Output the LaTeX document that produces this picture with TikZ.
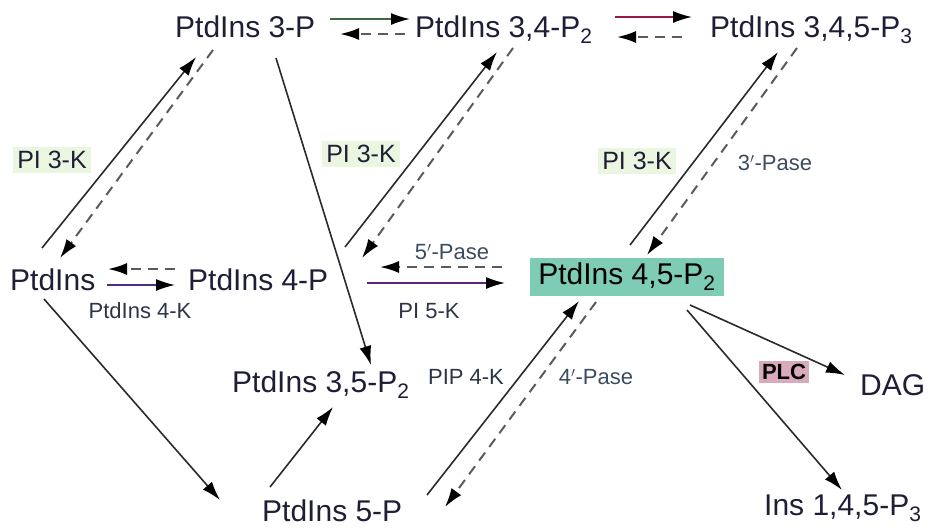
\documentclass[tikz,border=0pt]{standalone}
\usepackage{fontspec}
\setmainfont{Liberation Sans}
\usetikzlibrary{arrows.meta}
\definecolor{txt}{HTML}{1E1E36}
\definecolor{lbl}{HTML}{2E3448}
\definecolor{pase}{HTML}{3C4C60}
\definecolor{greenbg}{HTML}{EAF6E0}
\definecolor{pinkbg}{HTML}{D9A9BC}
\definecolor{teal}{HTML}{7ECBB6}
\definecolor{arrgray}{HTML}{2A2A2A}
\definecolor{dashgray}{HTML}{5A5A62}
\definecolor{darkgreen}{HTML}{3C6A3A}
\definecolor{crimson}{HTML}{9A1842}
\definecolor{purp}{HTML}{4E2C78}
\definecolor{purp2}{HTML}{5E2478}
\tikzset{
  main/.style={anchor=base west,inner sep=0pt,text=txt,font=\fontsize{30}{36}\selectfont},
  boxnode/.style={fill=teal,inner xsep=8pt,inner ysep=0pt,minimum height=38pt,text=black,font=\fontsize{30}{36}\selectfont},
  small/.style={inner sep=1pt,text=lbl,font=\fontsize{22}{26}\selectfont},
  pasel/.style={inner sep=1pt,text=pase,font=\fontsize{22}{26}\selectfont},
  kin/.style={fill=greenbg,inner sep=4pt,text=txt,font=\fontsize{25}{29}\selectfont},
  plcl/.style={fill=pinkbg,inner sep=3pt,text=black,font=\bfseries\fontsize{22}{26}\selectfont},
  tip/.style={-{Latex[length=19pt,width=12pt,color=black]}},
  sol/.style={tip,draw=arrgray,line width=1.6pt},
  dsh/.style={tip,draw=dashgray,line width=2pt,dash pattern=on 10pt off 7pt},
}
\begin{document}
\begin{tikzpicture}[x=1pt,y=-1pt]
\useasboundingbox (0,0) rectangle (933,528);
% nodes
\node[main] (pi) at (10,290) {PtdIns};
\node[main] (p3) at (175,37) {PtdIns 3-P};
\node[main] (p34) at (415,37) {PtdIns 3,4-P\textsubscript{2}};
\node[main] (p345) at (710,37) {PtdIns 3,4,5-P\textsubscript{3}};
\node[main] (p4) at (188,290) {PtdIns 4-P};
\node[boxnode] (p45) at (627,277) {PtdIns 4,5-P\textsubscript{2}};
\node[main] (p35) at (232,392) {PtdIns 3,5-P\textsubscript{2}};
\node[main] (p5) at (262,521) {PtdIns 5-P};
\node[main] (dag) at (860,395) {DAG};
\node[main] (ins) at (764,515) {Ins 1,4,5-P\textsubscript{3}};
% labels
\node[kin] (k1) at (52,160) {PI 3-K};
\node[kin] (k2) at (361,154) {PI 3-K};
\node[kin] (k3) at (637,161) {PI 3-K};
\node[pasel] (l3p) at (775,163) {3$'$-Pase};
\node[pasel] (l5p) at (452,252) {5$'$-Pase};
\node[small] (l5k) at (429,311) {PI 5-K};
\node[small] (l4k) at (140,311) {PtdIns 4-K};
\node[small] (lpip) at (466,377) {PIP 4-K};
\node[pasel] (l4p) at (596,377) {4$'$-Pase};
\node[plcl] (plc) at (784,372) {PLC};
% arrows
\draw[sol] ([shift={(32,-42)}]pi.base west) -- ([shift={(21,20)}]p3.base west);
\draw[dsh] ([shift={(38,13)}]p3.base west) -- ([shift={(50,-32)}]pi.base west);
\draw[sol,draw=darkgreen] ([shift={(155,-18)}]p3.base west) -- ([shift={(-5,-18)}]p34.base west);
\draw[dsh] ([shift={(-10,-3)}]p34.base west) -- ([shift={(165,-3)}]p3.base west);
\draw[sol,draw=crimson] ([shift={(200,-20)}]p34.base west) -- ([shift={(-18,-20)}]p345.base west);
\draw[dsh] ([shift={(-28,0)}]p345.base west) -- ([shift={(202,0)}]p34.base west);
\draw[sol] ([shift={(157,-43)}]p4.base west) -- ([shift={(82,15)}]p34.base west);
\draw[dsh] ([shift={(98,11)}]p34.base west) -- ([shift={(174,-32)}]p4.base west);
\draw[sol] ([shift={(3,-32)}]p45.center) -- ([shift={(68,15)}]p345.base west);
\draw[dsh] ([shift={(87,11)}]p345.base west) -- ([shift={(20,-22)}]p45.center);
\draw[sol,draw=purp] ([shift={(97,-5)}]pi.base west) -- ([shift={(-13,-5)}]p4.base west);
\draw[dsh] ([shift={(-13,-21)}]p4.base west) -- ([shift={(98,-21)}]pi.base west);
\draw[sol,draw=purp2] ([shift={(179,-7)}]p4.base west) -- ([shift={(-122,6)}]p45.center);
\draw[dsh] ([shift={(-125,-10)}]p45.center) -- ([shift={(192,-23)}]p4.base west);
\draw[sol] ([shift={(101,21)}]p3.base west) -- ([shift={(139,-27)}]p35.base west);
\draw[sol] ([shift={(34,9)}]pi.base west) -- ([shift={(-42,-21)}]p5.base west);
\draw[sol] ([shift={(8,-34)}]p5.base west) -- ([shift={(101,15)}]p35.base west);
\draw[sol] ([shift={(165,-26)}]p5.base west) -- ([shift={(-48,24)}]p45.center);
\draw[dsh] ([shift={(-31,25)}]p45.center) -- ([shift={(183,-14)}]p5.base west);
\draw[sol] ([shift={(63,28)}]p45.center) -- ([shift={(-15,-20)}]dag.base west);
\draw[sol] ([shift={(60,33)}]p45.center) -- ([shift={(78,-25)}]ins.base west);
\end{tikzpicture}
\end{document}
